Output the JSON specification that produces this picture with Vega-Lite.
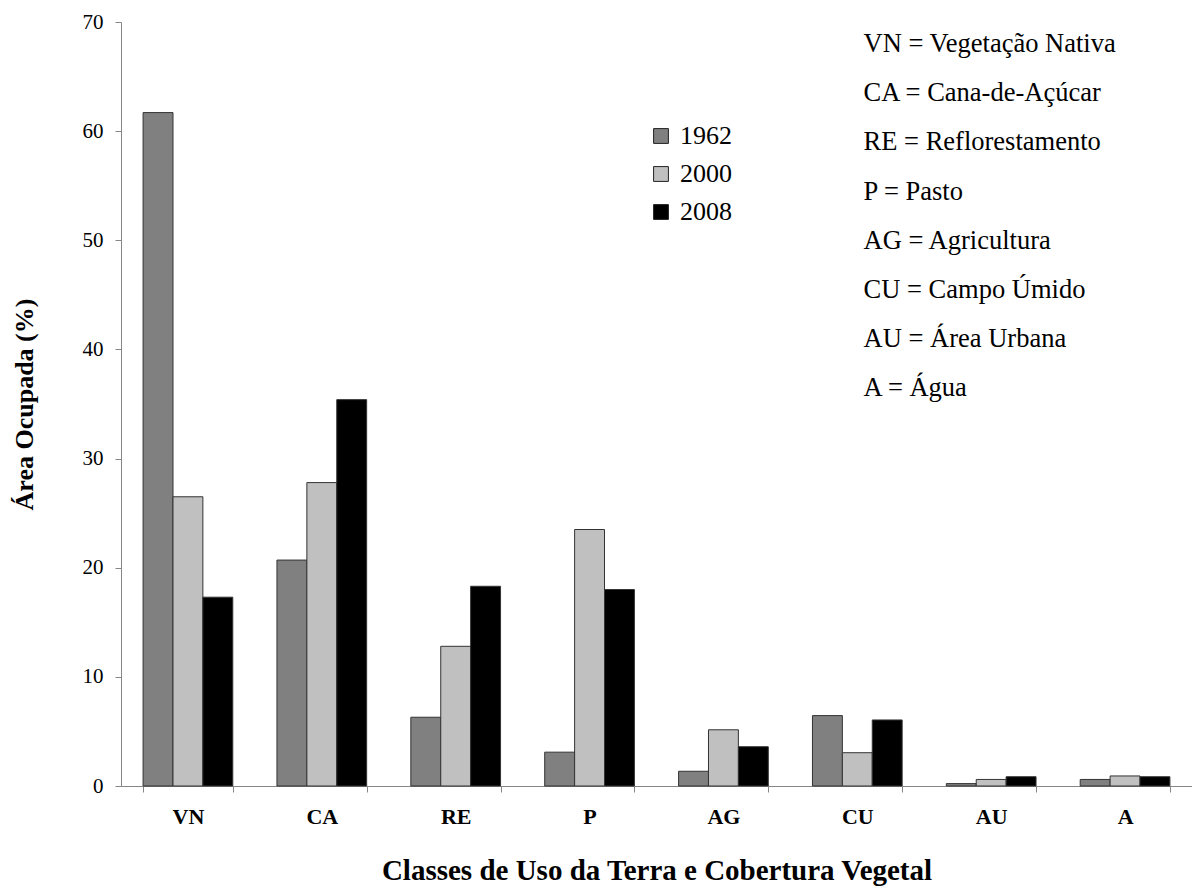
{
  "$schema": "https://vega.github.io/schema/vega-lite/v6.json",
  "width": 1071,
  "height": 764,
  "autosize": {"type": "none"},
  "padding": {"left": 121, "top": 22, "right": 0, "bottom": 100},
  "background": "white",
  "config": {
    "view": {"stroke": null},
    "font": "Liberation Serif",
    "axis": {"labelFont": "Liberation Serif", "titleFont": "Liberation Serif", "domainColor": "#868686", "tickColor": "#868686", "labelColor": "#000", "titleColor": "#000", "grid": false},
    "legend": {"labelFont": "Liberation Serif", "titleFont": "Liberation Serif"}
  },
  "layer": [
    {
      "data": {
        "values": [
          {"classe": "VN", "ano": "1962", "area": 61.7},
          {"classe": "VN", "ano": "2000", "area": 26.5},
          {"classe": "VN", "ano": "2008", "area": 17.3},
          {"classe": "CA", "ano": "1962", "area": 20.7},
          {"classe": "CA", "ano": "2000", "area": 27.8},
          {"classe": "CA", "ano": "2008", "area": 35.4},
          {"classe": "RE", "ano": "1962", "area": 6.3},
          {"classe": "RE", "ano": "2000", "area": 12.8},
          {"classe": "RE", "ano": "2008", "area": 18.3},
          {"classe": "P", "ano": "1962", "area": 3.1},
          {"classe": "P", "ano": "2000", "area": 23.5},
          {"classe": "P", "ano": "2008", "area": 18.0},
          {"classe": "AG", "ano": "1962", "area": 1.35},
          {"classe": "AG", "ano": "2000", "area": 5.15},
          {"classe": "AG", "ano": "2008", "area": 3.6},
          {"classe": "CU", "ano": "1962", "area": 6.45},
          {"classe": "CU", "ano": "2000", "area": 3.05},
          {"classe": "CU", "ano": "2008", "area": 6.05},
          {"classe": "AU", "ano": "1962", "area": 0.22},
          {"classe": "AU", "ano": "2000", "area": 0.6},
          {"classe": "AU", "ano": "2008", "area": 0.85},
          {"classe": "A", "ano": "1962", "area": 0.6},
          {"classe": "A", "ano": "2000", "area": 0.92},
          {"classe": "A", "ano": "2008", "area": 0.85}
        ]
      },
      "mark": {"type": "bar", "stroke": "#333333", "strokeWidth": 1},
      "encoding": {
        "x": {
          "field": "classe", "type": "nominal",
          "scale": {"domain": ["VN", "CA", "RE", "P", "AG", "CU", "AU", "A"], "paddingInner": 0.33, "paddingOuter": 0.165},
          "axis": {
            "labelAngle": 0, "labelFontSize": 22, "labelFontWeight": "bold",
            "tickBand": "extent", "tickSize": 6, "labelPadding": 14,
            "title": "Classes de Uso da Terra e Cobertura Vegetal",
            "titleFontSize": 29, "titleFontWeight": "bold",
            "titleBaseline": "middle", "titleY": 84
          }
        },
        "xOffset": {"field": "ano", "type": "nominal", "scale": {"paddingInner": 0, "paddingOuter": 0}},
        "y": {
          "field": "area", "type": "quantitative",
          "scale": {"domain": [0, 70], "nice": false},
          "axis": {
            "values": [0, 10, 20, 30, 40, 50, 60, 70],
            "labelFontSize": 21, "tickSize": 6, "labelPadding": 12,
            "title": "Área  Ocupada (%)", "titleFontSize": 26, "titleFontWeight": "bold",
            "titleBaseline": "middle", "titleX": -97
          }
        },
        "color": {
          "field": "ano", "type": "nominal",
          "scale": {"domain": ["1962", "2000", "2008"], "range": ["#808080", "#c0c0c0", "#000000"]},
          "legend": {
            "title": null, "orient": "none", "legendX": 527, "legendY": 101,
            "symbolType": "square", "symbolSize": 220, "symbolStrokeColor": "#222", "symbolStrokeWidth": 1,
            "labelFontSize": 26, "labelFont": "Liberation Serif", "labelColor": "#000",
            "labelOffset": 6, "rowPadding": 12
          }
        }
      }
    },
    {
      "data": {"values": [{"classe": "CU"}]},
      "mark": {
        "type": "text",
        "text": ["VN = Vegetação Nativa", "CA = Cana-de-Açúcar", "RE = Reflorestamento", "P = Pasto", "AG = Agricultura", "CU = Campo Úmido", "AU = Área Urbana", "A = Água"],
        "align": "left", "baseline": "alphabetic", "fontSize": 26.5, "lineHeight": 49.2,
        "font": "Liberation Serif", "color": "#000"
      },
      "encoding": {
        "x": {"field": "classe", "type": "nominal", "bandPosition": 0.57},
        "y": {"datum": 67.25, "type": "quantitative"}
      }
    }
  ]
}
